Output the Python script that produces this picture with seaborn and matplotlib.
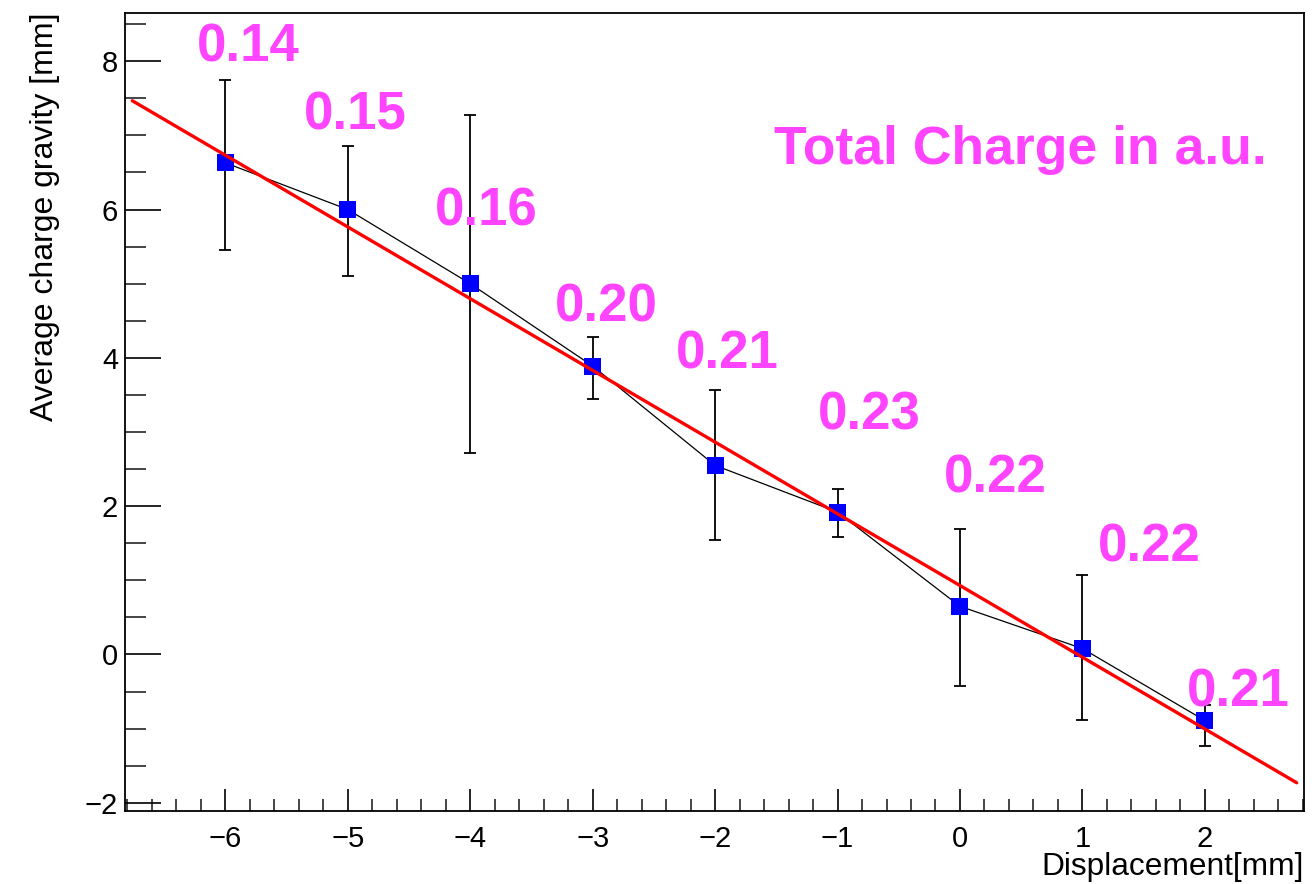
import numpy as np
import pandas as pd
import matplotlib
matplotlib.use("Agg")
import matplotlib.pyplot as plt
import seaborn as sns
from matplotlib.ticker import MultipleLocator

# ---- data ----
displacement = [-6, -5, -4, -3, -2, -1, 0, 1, 2]
gravity = [6.63, 6.00, 5.00, 3.89, 2.55, 1.92, 0.65, 0.08, -0.89]
err_up = [7.74, 6.86, 7.27, 4.28, 3.57, 2.23, 1.69, 1.07, -0.68]
err_lo = [5.45, 5.11, 2.72, 3.45, 1.55, 1.58, -0.42, -0.88, -1.23]
charge_labels = ["0.14", "0.15", "0.16", "0.20", "0.21", "0.23", "0.22", "0.22", "0.21"]
label_x = [-6.23, -5.36, -4.29, -3.31, -2.32, -1.16, -0.13, 1.13, 1.85]
label_y = [8.00, 7.08, 5.79, 4.49, 3.86, 3.04, 2.18, 1.26, -0.70]
fit_slope = -0.967
fit_intercept = 0.93
fit_range = [-6.76, 2.75]

df = pd.DataFrame({"x": displacement, "y": gravity})
fit_x = np.linspace(fit_range[0], fit_range[1], 50)
fit_df = pd.DataFrame({"x": fit_x, "y": fit_intercept + fit_slope * fit_x})

sns.set_theme(style="white")
plt.rcParams["font.family"] = ["Liberation Sans", "DejaVu Sans"]

fig = plt.figure(figsize=(13.14, 8.84), dpi=100)
ax = fig.add_axes([0.0951, 0.0826, 0.8973, 0.9027])

# error bars
yerr = np.array([np.array(gravity) - np.array(err_lo), np.array(err_up) - np.array(gravity)])
ax.errorbar(displacement, gravity, yerr=yerr, fmt="none", ecolor="black",
            elinewidth=1.3, capsize=4, capthick=1.3, zorder=2)
# connecting line
sns.lineplot(data=df, x="x", y="y", color="black", linewidth=0.9, ax=ax, zorder=3)
# markers
sns.scatterplot(data=df, x="x", y="y", marker="s", s=150, color="#0000ff",
                edgecolor="none", linewidth=0, ax=ax, zorder=4)
# fit line
sns.lineplot(data=fit_df, x="x", y="y", color="#ff0000", linewidth=2.4, ax=ax, zorder=5)

magenta = "#ff44ff"
for lx, ly, t in zip(label_x, label_y, charge_labels):
    ax.text(lx, ly, t, color=magenta, fontsize=38, fontweight="bold",
            ha="left", va="baseline", zorder=6)
ax.text(-1.52, 6.61, "Total Charge in a.u.", color=magenta, fontsize=38.5,
        fontweight="bold", ha="left", va="baseline", zorder=6)

ax.set_xlim(-6.82, 2.81)
ax.set_ylim(-2.11, 8.65)

ax.xaxis.set_major_locator(MultipleLocator(1))
ax.xaxis.set_minor_locator(MultipleLocator(0.2))
ax.yaxis.set_major_locator(MultipleLocator(2))
ax.yaxis.set_minor_locator(MultipleLocator(0.5))

ax.tick_params(axis="x", which="major", direction="in", length=16, width=1.2,
               bottom=True, top=False, labelsize=21, pad=10, colors="black")
ax.tick_params(axis="x", which="minor", direction="in", length=9, width=1.2,
               bottom=True, top=False)
ax.tick_params(axis="y", which="major", direction="in", length=26, width=1.2,
               left=True, right=False, labelsize=21, pad=5, colors="black")
ax.tick_params(axis="y", which="minor", direction="in", length=15, width=1.2,
               left=True, right=False)

for sp in ax.spines.values():
    sp.set_color("black")
    sp.set_linewidth(1.3)
    sp.set_visible(True)

ax.set_xlabel("Displacement[mm]", fontsize=22.8, color="black")
ax.xaxis.set_label_coords(1.0, -0.052)
ax.xaxis.label.set_ha("right")
ax.xaxis.label.set_va("top")
ax.set_ylabel("Average charge gravity [mm]", fontsize=23, color="black")
ax.yaxis.set_label_coords(-0.055, 1.0)
ax.yaxis.label.set_ha("right")

fig.savefig("out.png", dpi=100, facecolor="white")
